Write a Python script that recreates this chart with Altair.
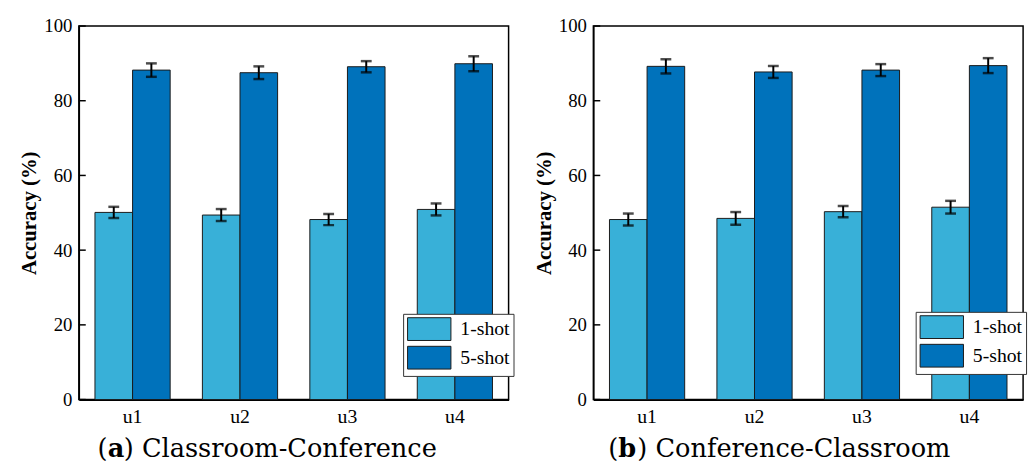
import altair as alt
import pandas as pd

users = ["u1", "u2", "u3", "u4"]
shots = ["1-shot", "5-shot"]
y_ticks = [0, 20, 40, 60, 80, 100]

# Panel (a) Classroom-Conference
a_one = [50.1, 49.4, 48.2, 50.9]
a_one_err = [1.5, 1.6, 1.5, 1.6]
a_five = [88.2, 87.5, 89.1, 89.9]
a_five_err = [1.8, 1.7, 1.5, 2.0]

# Panel (b) Conference-Classroom
b_one = [48.2, 48.5, 50.3, 51.5]
b_one_err = [1.6, 1.7, 1.5, 1.7]
b_five = [89.2, 87.7, 88.2, 89.4]
b_five_err = [1.9, 1.6, 1.6, 2.0]

panel_letters = ["a", "b"]
panel_names = ["Classroom-Conference", "Conference-Classroom"]
colors = ["#38B0D8", "#0072BB"]

SERIF = "Liberation Serif"
SUB = "DejaVu Serif"
W, H = 436, 379


def panel(one, one_err, five, five_err, letter, name, lx, ly, tx, lw):
    df = pd.DataFrame({
        "user": users * 2,
        "shot": [shots[0]] * 4 + [shots[1]] * 4,
        "acc": one + five,
        "err": one_err + five_err,
    })
    df["lo"] = df["acc"] - df["err"]
    df["hi"] = df["acc"] + df["err"]

    xenc = alt.X("user:N", sort=users,
                 scale=alt.Scale(paddingInner=0.3, paddingOuter=0.15),
                 axis=alt.Axis(title=None, labelAngle=0, ticks=False, labelPadding=7,
                               labelFont=SERIF, labelFontSize=20, labelColor="black",
                               domainColor="black", domainWidth=2))
    xoff = alt.XOffset("shot:N", sort=shots, scale=alt.Scale(paddingInner=0, paddingOuter=0))
    yscale = alt.Scale(domain=[0, 100], nice=False, zero=True)
    ytitle = "Accuracy (%)"

    base = alt.Chart(df)
    bars = base.mark_bar(stroke="#1a1a1a", strokeWidth=1).encode(
        x=xenc,
        xOffset=xoff,
        y=alt.Y("acc:Q", scale=yscale, title=ytitle,
                axis=alt.Axis(values=y_ticks, ticks=False, grid=False, labelPadding=7,
                              labelFont=SERIF, labelFontSize=19, labelColor="black",
                              titleFont=SERIF, titleFontSize=21, titleFontWeight="bold",
                              titleColor="black", titlePadding=4,
                              domainColor="black", domainWidth=1.5)),
        color=alt.Color("shot:N", sort=shots,
                        scale=alt.Scale(domain=shots, range=colors),
                        legend=alt.Legend(title=None, orient="none", legendX=lx, legendY=ly,
                                          symbolType="M-1,-1.05H3V1.05H-1Z", symbolSize=484,
                                          symbolStrokeColor="#1a1a1a", symbolStrokeWidth=1,
                                          symbolOpacity=1,
                                          labelFont=SERIF, labelFontSize=20, labelColor="black",
                                          labelOffset=31, padding=4, rowPadding=0,
                                          strokeColor="#333333", fillColor="white")),
    )
    rules = base.mark_rule(color="black", strokeWidth=2).encode(
        x=xenc, xOffset=xoff,
        y=alt.Y("lo:Q", scale=yscale, title=ytitle),
        y2="hi:Q",
    )
    cap_lo = base.mark_tick(color="black", thickness=2.5, size=11, orient="horizontal").encode(
        x=xenc, xOffset=xoff, y=alt.Y("lo:Q", scale=yscale, title=ytitle))
    cap_hi = base.mark_tick(color="black", thickness=2.5, size=11, orient="horizontal").encode(
        x=xenc, xOffset=xoff, y=alt.Y("hi:Q", scale=yscale, title=ytitle))

    ticks = alt.Chart(pd.DataFrame({"v": y_ticks})).mark_rule(color="black", strokeWidth=1.5).encode(
        y=alt.Y("v:Q", scale=yscale, title=ytitle),
        x=alt.value(0), x2=alt.value(7),
    )

    fs = 26
    tdf = pd.DataFrame({"open": ["("], "letter": [letter], "rest": [") " + name]})
    t_open = alt.Chart(tdf).mark_text(font=SUB, fontSize=fs, align="left", baseline="alphabetic",
                                      color="black").encode(
        text="open:N", x=alt.value(tx), y=alt.value(H + 58))
    t_letter = alt.Chart(tdf).mark_text(font=SUB, fontSize=fs, fontWeight="bold", align="left",
                                        baseline="alphabetic", color="black").encode(
        text="letter:N", x=alt.value(tx + 10.2), y=alt.value(H + 58))
    t_rest = alt.Chart(tdf).mark_text(font=SUB, fontSize=fs, align="left", baseline="alphabetic",
                                      color="black").encode(
        text="rest:N", x=alt.value(tx + 10.2 + lw), y=alt.value(H + 58))

    return alt.layer(bars, rules, cap_lo, cap_hi, ticks, t_open, t_letter, t_rest).properties(
        width=W, height=H)


left = panel(a_one, a_one_err, a_five, a_five_err, panel_letters[0], panel_names[0], 329, 292, 19, 16.4)
right = panel(b_one, b_one_err, b_five, b_five_err, panel_letters[1], panel_names[1], 327, 290, 15, 19.4)

chart = alt.hconcat(left, right, spacing=17).resolve_scale(color="independent").resolve_legend(
    color="independent").properties(
    padding={"left": 18, "top": 13, "right": 2, "bottom": 0},
    background="white",
).configure_view(stroke="black", strokeWidth=1.5)

chart.save("out.html", embed_options={"renderer": "svg", "actions": False})
